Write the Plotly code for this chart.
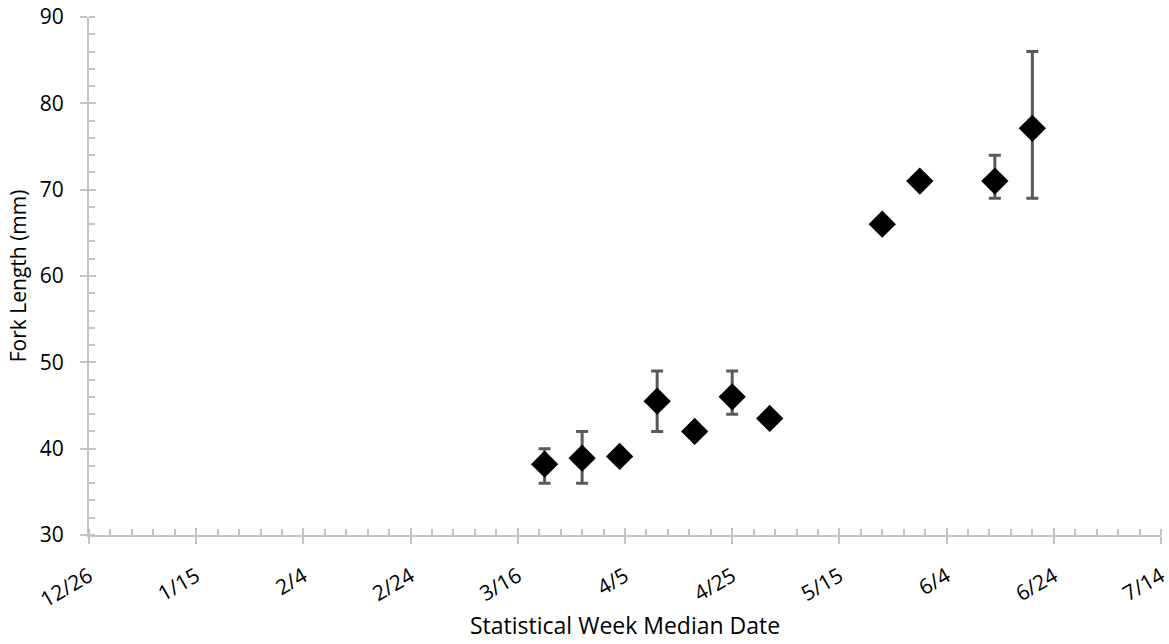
import plotly.graph_objects as go

# ---- data ----
dates = ["2015-03-21", "2015-03-28", "2015-04-04", "2015-04-11", "2015-04-18",
         "2015-04-25", "2015-05-02", "2015-05-23", "2015-05-30", "2015-06-13",
         "2015-06-20"]
fork_length = [38.2, 38.9, 39.1, 45.5, 42.0, 46.0, 43.5, 66.0, 71.0, 71.0, 77.1]
upper_bound = [40, 42, None, 49, None, 49, None, None, None, 74, 86]
lower_bound = [36, 36, None, 42, None, 44, None, None, None, 69, 69]

err_plus = [None if u is None else u - v for u, v in zip(upper_bound, fork_length)]
err_minus = [None if l is None else v - l for l, v in zip(lower_bound, fork_length)]

AXIS_COLOR = "#c4c4c4"
FONT = "Open Sans"
DAY = 86400000

fig = go.Figure()
fig.add_trace(go.Scatter(
    x=dates, y=fork_length, mode="markers",
    marker=dict(symbol="diamond", size=21, color="black"),
    error_y=dict(type="data", symmetric=False, array=err_plus, arrayminus=err_minus,
                 color="#595959", thickness=3, width=6),
    showlegend=False,
))
# invisible trace on overlay axes (for crossing major ticks)
fig.add_trace(go.Scatter(x=[dates[0]], y=[fork_length[0]], xaxis="x2", yaxis="y2",
                         mode="markers", marker=dict(opacity=0), showlegend=False,
                         hoverinfo="skip"))

xrange = ["2014-12-26", "2015-07-14"]
yrange = [30, 90]

fig.update_layout(
    width=1169, height=644,
    margin=dict(l=89, r=8, t=17, b=109),
    plot_bgcolor="white", paper_bgcolor="white",
    font=dict(family=FONT, size=21, color="black"),
    xaxis=dict(
        type="date", range=xrange, tick0="2014-12-26", dtick=20 * DAY,
        tickformat="%-m/%-d", tickangle=-30, automargin=False,
        ticklabeloverflow="allow",
        showgrid=False, zeroline=False,
        showline=True, linecolor=AXIS_COLOR, linewidth=2,
        ticks="outside", ticklen=7, tickwidth=2, tickcolor=AXIS_COLOR,
        ticklabelstandoff=12,
        minor=dict(dtick=4 * DAY, tick0="2014-12-26", ticks="inside", ticklen=6,
                   tickwidth=1.5, tickcolor=AXIS_COLOR, showgrid=False),
        tickfont=dict(family=FONT, size=21),
    ),
    yaxis=dict(
        range=yrange, dtick=10, tick0=30, automargin=False,
        showgrid=False, zeroline=False,
        showline=True, linecolor=AXIS_COLOR, linewidth=2,
        ticks="outside", ticklen=7, tickwidth=2, tickcolor=AXIS_COLOR,
        ticklabelstandoff=12,
        minor=dict(dtick=2, ticks="inside", ticklen=6, tickwidth=1.5,
                   tickcolor=AXIS_COLOR, showgrid=False),
        tickfont=dict(family=FONT, size=21),
    ),
    xaxis2=dict(
        type="date", range=xrange, tick0="2014-12-26", dtick=20 * DAY,
        overlaying="x", showticklabels=False, showgrid=False, zeroline=False,
        automargin=False,
        ticks="inside", ticklen=7, tickwidth=2, tickcolor=AXIS_COLOR, showline=False,
    ),
    yaxis2=dict(
        range=yrange, dtick=10, tick0=30, overlaying="y", automargin=False,
        showticklabels=False, showgrid=False, zeroline=False,
        ticks="inside", ticklen=7, tickwidth=2, tickcolor=AXIS_COLOR, showline=False,
    ),
    annotations=[
        dict(text="Statistical Week Median Date", xref="paper", yref="paper",
             x=0.5, y=-0.174, xanchor="center", yanchor="middle",
             showarrow=False, font=dict(family=FONT, size=23)),
        dict(text="Fork Length (mm)", xref="paper", yref="paper",
             x=-0.066, y=0.5, xanchor="center", yanchor="middle", textangle=-90,
             showarrow=False, font=dict(family=FONT, size=21)),
    ],
)

fig.write_html("out.html")
